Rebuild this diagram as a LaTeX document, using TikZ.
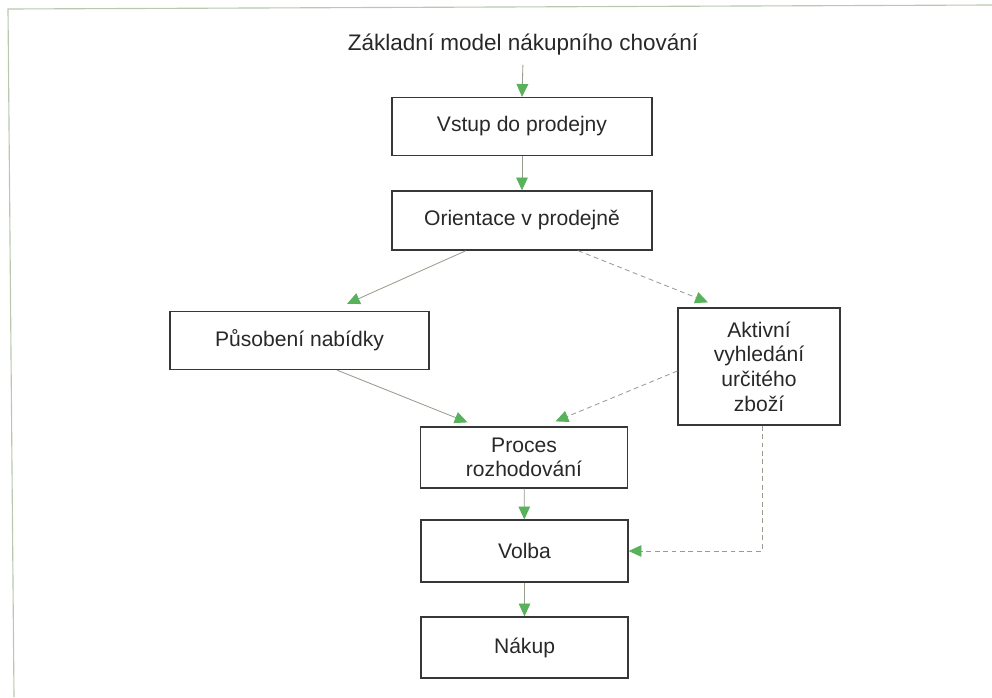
\documentclass[tikz,border=0pt]{standalone}
\usepackage{fontspec}
\setmainfont{Liberation Sans}
\usepackage{tikz}
\usetikzlibrary{positioning}
\usetikzlibrary{arrows.meta,calc}
\definecolor{tipgreen}{RGB}{88,178,92}
\definecolor{linegray}{RGB}{150,158,142}
\definecolor{boxline}{RGB}{55,55,55}
\definecolor{txtgray}{RGB}{40,40,40}
\definecolor{framegreen}{RGB}{185,200,175}
\tikzset{
  >={Triangle[length=3.2mm,width=2.9mm,color=tipgreen]},
  box/.style = {rectangle, draw=boxline, line width=0.9pt, text=txtgray,
   align=center, font=\fontsize{15}{17.5}\selectfont,
   minimum height=1.45cm, inner sep=2pt},
  flow/.style = {->, draw=linegray, line width=0.6pt},
  alt/.style = {flow, dash pattern=on 3.5pt off 2.5pt},
}
\begin{document}
\begin{tikzpicture}[x=0.025cm, y=-0.025cm]
\useasboundingbox (0,0) rectangle (992,697);
% page frame
\draw[framegreen, line width=0.8pt] (14,697) -- (8,9) -- (992,5);
\node at(523,45) (title) [font=\fontsize{16}{18}\selectfont, text=txtgray] {Základní model nákupního chování};
\node at(522,126.5) (vstup) [box, minimum width=6.5cm] {Vstup do prodejny};
\node at(522,220.5) (orient) [box, minimum width=6.5cm, minimum height=1.475cm] {Orientace v prodejně};
\node at(299.5,340.5) (nabidka) [box, minimum width=6.475cm] {Působení nabídky};
\node at(759,366.5) (aktivni) [box, minimum width=4.05cm, minimum height=2.925cm] {Aktivní\\ vyhledání\\ určitého\\ zboží};
\node at(524,457.5) (proces) [box, minimum width=5.175cm, minimum height=1.525cm] {Proces\\ rozhodování};
\node at(524.5,551) (volba) [box, minimum width=5.175cm, minimum height=1.55cm] {Volba};
\node at(524.5,647.5) (nakup) [box, minimum width=5.175cm, minimum height=1.525cm] {Nákup};
\draw[flow, shorten <=3pt] (title.south) -- (vstup.north);
\draw[flow] (vstup) -- (orient);
\draw[flow] ([shift={(-56,0)}]orient.south) -- ([shift={(47.5,-7)}]nabidka.north);
\draw[alt] ([shift={(56,0)}]orient.south) -- ([shift={(-51,-5)}]aktivni.north);
\draw[flow] ([shift={(37.5,0)}]nabidka.south) -- ([shift={(-56.5,-4)}]proces.north);
\draw[alt] ([shift={(0,4.5)}]aktivni.west) -- ([shift={(31.5,-5)}]proces.north);
\draw[flow] (proces) -- (volba);
\draw[alt] ([shift={(3,0)}]aktivni.south) |- (volba.east);
\draw[flow] (volba) -- (nakup);
\end{tikzpicture}
\end{document}
